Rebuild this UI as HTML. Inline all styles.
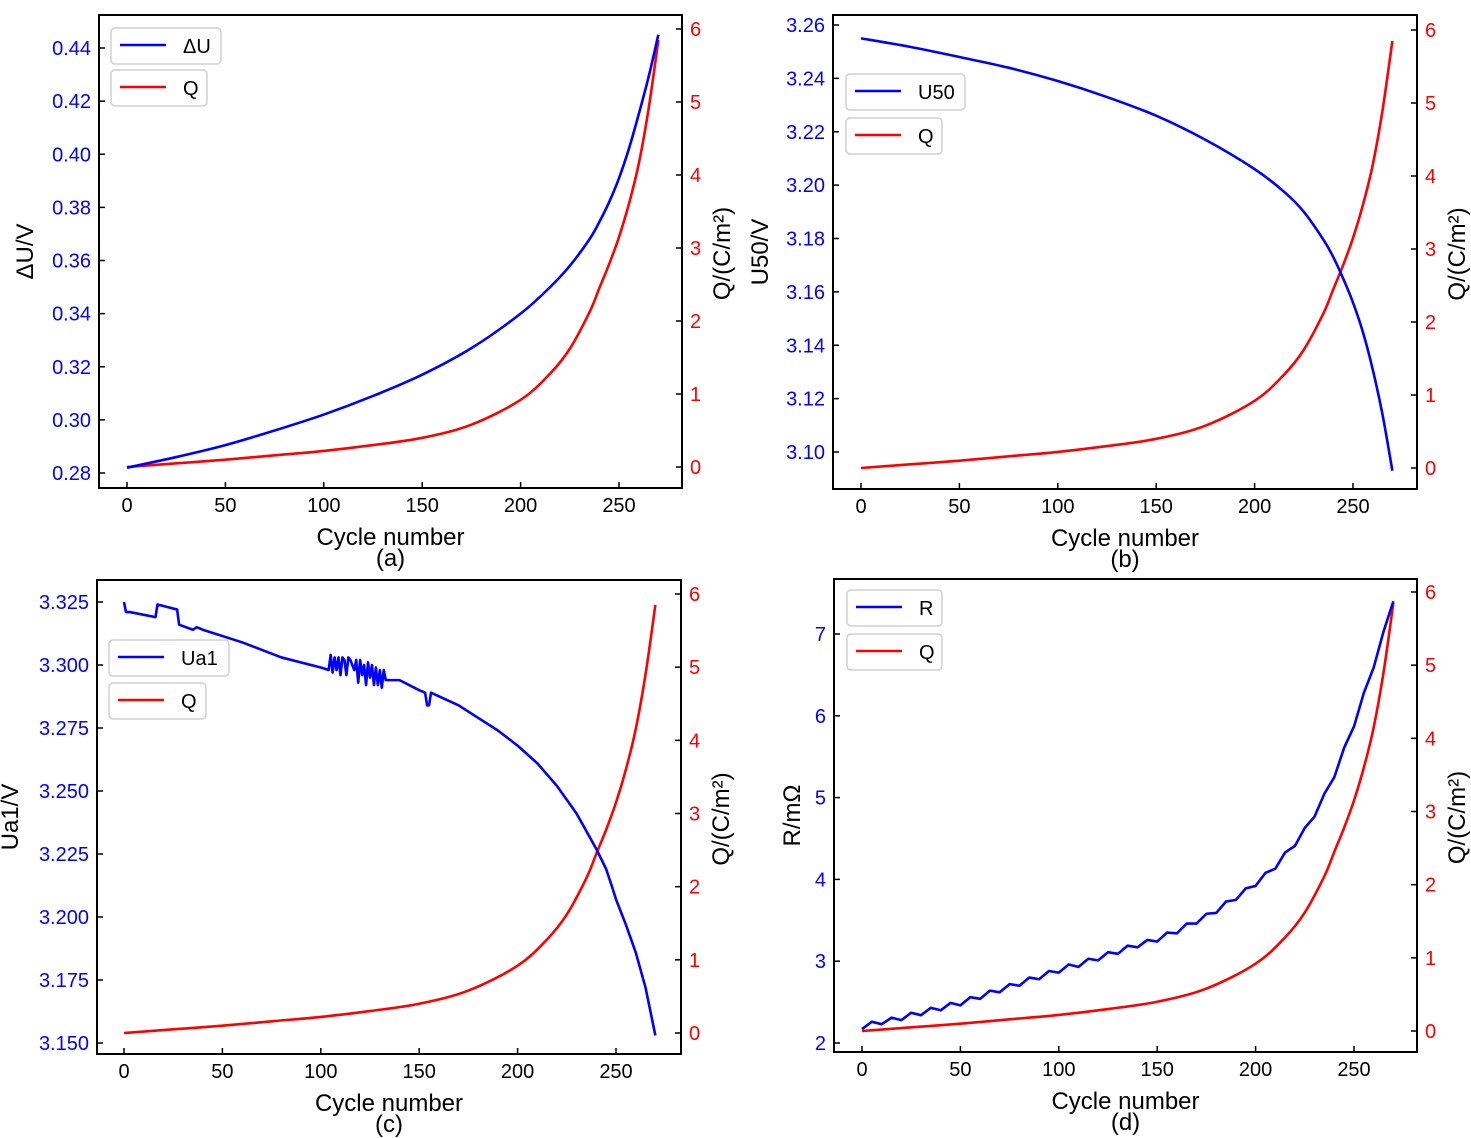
<!DOCTYPE html>
<html><head><meta charset="utf-8"><style>
body{margin:0;background:#fff}
svg{display:block;font-family:"Liberation Sans",Arial,sans-serif}
</style></head><body>
<svg id="fig" width="1471" height="1138" viewBox="0 0 1471 1138"></svg>
<script>
const qCycles=[0,25,50,75,100,125,150,175,200,215,225,235,240,245,250,255,260,265,270];
const qValues=[0,0.05,0.1,0.16,0.22,0.30,0.40,0.58,0.92,1.28,1.62,2.12,2.45,2.78,3.15,3.6,4.15,4.9,5.85];
const duValues=[0.282,0.286,0.2905,0.296,0.302,0.309,0.317,0.327,0.340,0.350,0.358,0.368,0.3745,0.382,0.391,0.402,0.415,0.429,0.445];
const u50Values=[3.255,3.2518,3.2480,3.2440,3.2390,3.2330,3.2260,3.2170,3.2060,3.1975,3.1900,3.1795,3.1730,3.1650,3.1560,3.1450,3.1310,3.1140,3.0930];
const ua1Cycles=[0,1,3,16,17,22,27,28,35,37,40,60,80,100,104,105,106,107,108,109,110,111,112,113,114,115,117,118,119,120,121,122,123,124,125,126,127,128,129,130,131,132,133,140,150,153,154,155,156,170,180,190,200,210,220,230,240,245,248,250,255,260,265,270];
const ua1Values=[3.325,3.321,3.321,3.319,3.324,3.323,3.322,3.316,3.314,3.315,3.314,3.309,3.303,3.299,3.298,3.304,3.297,3.303,3.298,3.303,3.296,3.303,3.302,3.296,3.303,3.302,3.298,3.302,3.293,3.302,3.296,3.300,3.292,3.301,3.295,3.300,3.292,3.299,3.292,3.298,3.291,3.298,3.294,3.294,3.290,3.289,3.284,3.284,3.289,3.284,3.279,3.274,3.268,3.261,3.252,3.241,3.227,3.219,3.212,3.207,3.197,3.186,3.172,3.153];
const rCycles=[0,5,10,15,20,25,30,35,40,45,50,55,60,65,70,75,80,85,90,95,100,105,110,115,120,125,130,135,140,145,150,155,160,165,170,175,180,185,190,195,200,205,210,215,220,225,230,235,240,245,250,255,260,265,270];
const rValues=[2.17,2.26,2.23,2.31,2.28,2.37,2.34,2.43,2.40,2.49,2.46,2.56,2.54,2.64,2.62,2.72,2.70,2.80,2.78,2.88,2.86,2.96,2.93,3.03,3.01,3.11,3.09,3.19,3.17,3.26,3.24,3.35,3.34,3.46,3.46,3.58,3.59,3.73,3.75,3.89,3.92,4.08,4.13,4.33,4.41,4.63,4.77,5.05,5.25,5.61,5.87,6.28,6.59,7.03,7.40];
const xTicks=[0,50,100,150,200,250];
const qTicks=[0,1,2,3,4,5,6];
const aTicks=[0.28,0.30,0.32,0.34,0.36,0.38,0.40,0.42,0.44];
const bTicks=[3.10,3.12,3.14,3.16,3.18,3.20,3.22,3.24,3.26];
const cTicks=[3.150,3.175,3.200,3.225,3.250,3.275,3.300,3.325];
const dTicks=[2,3,4,5,6,7];

const NS='http://www.w3.org/2000/svg';
const svg=document.getElementById('fig');
function mk(tag,attrs,parent,text){const e=document.createElementNS(NS,tag);for(const k in attrs)e.setAttribute(k,attrs[k]);if(text!==undefined)e.textContent=text;(parent||svg).appendChild(e);return e;}
function smoothPath(pts){let d='M'+pts[0][0]+','+pts[0][1];for(let i=0;i<pts.length-1;i++){const p0=pts[Math.max(0,i-1)],p1=pts[i],p2=pts[i+1],p3=pts[Math.min(pts.length-1,i+2)];const c1=[p1[0]+(p2[0]-p0[0])/6,p1[1]+(p2[1]-p0[1])/6],c2=[p2[0]-(p3[0]-p1[0])/6,p2[1]-(p3[1]-p1[1])/6];d+=' C'+c1[0]+','+c1[1]+' '+c2[0]+','+c2[1]+' '+p2[0]+','+p2[1];}return d;}
function linePath(pts){return 'M'+pts.map(p=>p[0]+','+p[1]).join(' L');}

function panel(cfg){
  const g=mk('g',{});
  
  
  const X=c=>cfg.x0+(cfg.x250-cfg.x0)*c/250;
  const YL=v=>cfg.yl0+(cfg.yl1-cfg.yl0)*(v-cfg.lt[0])/(cfg.lt[cfg.lt.length-1]-cfg.lt[0]);
  const YR=v=>cfg.yr0+(cfg.yr6-cfg.yr0)*v/6;
  const q=mk('path',{d:smoothPath(qCycles.map((c,i)=>[X(c),YR(qValues[i])])),fill:'none',stroke:'#ff0000','stroke-width':2.6},g);
  
  const pts=cfg.xs.map((c,i)=>[X(c),YL(cfg.ys[i])]);
  const b=mk('path',{d:cfg.smooth?smoothPath(pts):linePath(pts),fill:'none',stroke:'#0000ff','stroke-width':2.6,'stroke-linejoin':'round'},g);
  
  const fr=mk('rect',{x:cfg.bx,y:cfg.by,width:cfg.bw,height:cfg.bh,fill:'none',stroke:'#000','stroke-width':2},g);
  
  const bot=cfg.by+cfg.bh, right=cfg.bx+cfg.bw;
  xTicks.forEach(t=>{mk('line',{x1:X(t),x2:X(t),y1:bot,y2:bot-6,stroke:'#000','stroke-width':1.5},g);
    const tx=mk('text',{x:X(t),y:bot+24,'font-size':20,'text-anchor':'middle',fill:'#000'},g,String(t));
    });
  cfg.lt.forEach(t=>{mk('line',{x1:cfg.bx,x2:cfg.bx+6,y1:YL(t),y2:YL(t),stroke:'#000','stroke-width':1.5},g);
    const tx=mk('text',{x:cfg.bx-8,y:YL(t)+7,'font-size':20,'text-anchor':'end',fill:'#0000ff'},g,t.toFixed(cfg.dec));
    });
  qTicks.forEach(t=>{mk('line',{x1:right,x2:right-6,y1:YR(t),y2:YR(t),stroke:'#000','stroke-width':1.5},g);
    const tx=mk('text',{x:right+8,y:YR(t)+7,'font-size':20,fill:'#ff0000'},g,String(t));
    });
  const cx=cfg.bx+cfg.bw/2;
  const xl=mk('text',{x:cx,y:bot+57,'font-size':24,'text-anchor':'middle'},g,'Cycle number');
  
  const pl=mk('text',{x:cx,y:bot+78,'font-size':24,'text-anchor':'middle'},g,'('+cfg.id+')');
  
  const my=cfg.by+cfg.bh/2;
  const yl=mk('text',{x:cfg.ylx,y:my,'font-size':24,'text-anchor':'middle',transform:'rotate(-90 '+cfg.ylx+' '+my+')'},g,cfg.ylabel);
  
  const rx=right+48;
  const yr=mk('text',{x:rx,y:my+2,'font-size':24,'text-anchor':'middle',transform:'rotate(-90 '+rx+' '+(my+2)+')'},g,'Q/(C/m²)');
  
  cfg.leg.forEach(l=>{
    const lg=mk('g',{},g);
    
    mk('rect',{x:l.x,y:l.y,width:l.w,height:36,rx:4,fill:'#fff',stroke:'#d0d0d0','stroke-width':1.5},lg);
    mk('line',{x1:l.x+9,x2:l.x+55,y1:l.y+17,y2:l.y+17,stroke:l.c,'stroke-width':2.6},lg);
    mk('text',{x:l.x+72,y:l.y+25,'font-size':20},lg,l.t);
  });
}
panel({id:'a',bx:99,by:15,bw:583,bh:473,x0:127,x250:619,lt:aTicks,yl0:473,yl1:48,dec:2,yr0:467,yr6:29,xs:qCycles,ys:duValues,smooth:true,ylx:33,ylabel:'ΔU/V',
  leg:[{x:111,y:28,w:110,t:'ΔU',c:'#0000ff'},{x:111,y:70,w:96,t:'Q',c:'#ff0000'}]});
panel({id:'b',bx:833,by:15,bw:584,bh:474,x0:861,x250:1353,lt:bTicks,yl0:452,yl1:25,dec:2,yr0:468,yr6:30,xs:qCycles,ys:u50Values,smooth:true,ylx:768,ylabel:'U50/V',
  leg:[{x:846,y:74,w:119,t:'U50',c:'#0000ff'},{x:846,y:118,w:96,t:'Q',c:'#ff0000'}]});
panel({id:'c',bx:97,by:580,bw:584,bh:474,x0:124,x250:616,lt:cTicks,yl0:1043,yl1:602,dec:3,yr0:1033,yr6:594,xs:ua1Cycles,ys:ua1Values,smooth:false,ylx:18,ylabel:'Ua1/V',
  leg:[{x:109,y:640,w:120,t:'Ua1',c:'#0000ff'},{x:109,y:683,w:97,t:'Q',c:'#ff0000'}]});
panel({id:'d',bx:834,by:579,bw:583,bh:473,x0:862,x250:1354,lt:dTicks,yl0:1043,yl1:634,dec:0,yr0:1031,yr6:592,xs:rCycles,ys:rValues,smooth:false,ylx:800,ylabel:'R/mΩ',
  leg:[{x:847,y:590,w:95,t:'R',c:'#0000ff'},{x:847,y:634,w:95,t:'Q',c:'#ff0000'}]});
</script>
</body></html>
